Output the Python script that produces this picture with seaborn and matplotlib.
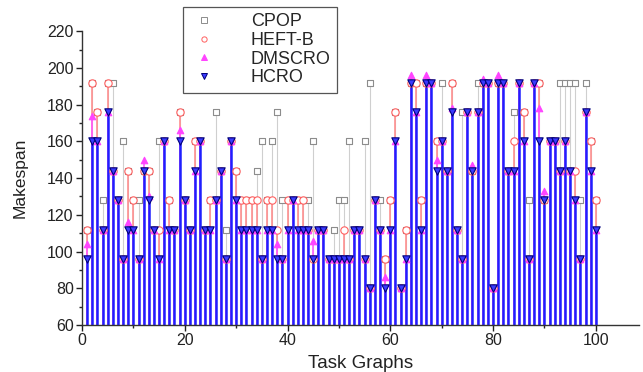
import matplotlib
matplotlib.use("Agg")
import matplotlib.pyplot as plt
from matplotlib.lines import Line2D
from matplotlib.ticker import MultipleLocator
import numpy as np
import pandas as pd
import seaborn as sns

# Makespan of each scheduling algorithm on task graphs 1..100
task_graphs = list(range(1, 101))

cpop = [112, 192, 176, 128, 192, 192, 128, 160, 144, 128,
        128, 144, 144, 112, 160, 160, 128, 112, 176, 128,
        112, 160, 160, 112, 128, 176, 144, 112, 160, 144,
        128, 128, 128, 144, 160, 128, 160, 176, 128, 128,
        128, 128, 128, 128, 160, 112, 112, 96, 112, 128,
        128, 160, 112, 112, 160, 192, 128, 128, 96, 128,
        176, 80, 112, 192, 192, 128, 192, 192, 160, 192,
        144, 192, 112, 176, 176, 144, 192, 192, 192, 80,
        192, 192, 144, 176, 192, 176, 128, 192, 192, 128,
        160, 160, 192, 192, 192, 192, 128, 192, 160, 128]

heft_b = [112, 192, 176, 112, 192, 144, 128, 96, 144, 128,
          96, 144, 144, 112, 112, 160, 128, 112, 176, 128,
          112, 160, 160, 112, 128, 128, 144, 96, 160, 144,
          128, 128, 128, 128, 96, 128, 128, 112, 96, 128,
          128, 128, 128, 112, 96, 112, 112, 96, 96, 96,
          112, 96, 112, 112, 96, 80, 128, 112, 96, 128,
          176, 80, 112, 192, 192, 128, 192, 192, 160, 160,
          144, 192, 112, 96, 176, 144, 176, 192, 192, 80,
          192, 192, 144, 160, 192, 176, 96, 192, 192, 128,
          160, 160, 144, 160, 144, 144, 96, 176, 160, 128]

dmscro = [104, 174, 160, 112, 176, 144, 128, 96, 116, 112,
          96, 150, 130, 112, 96, 160, 112, 112, 166, 128,
          112, 144, 160, 112, 112, 128, 144, 96, 160, 128,
          112, 112, 112, 112, 96, 112, 112, 104, 96, 112,
          128, 112, 112, 112, 106, 112, 112, 96, 96, 96,
          96, 96, 112, 112, 96, 80, 128, 112, 86, 112,
          160, 80, 96, 196, 176, 112, 196, 192, 150, 160,
          144, 178, 112, 96, 176, 147, 176, 194, 192, 80,
          196, 192, 144, 144, 192, 160, 96, 192, 178, 133,
          160, 160, 144, 160, 144, 128, 96, 176, 144, 112]

hcro = [96, 160, 160, 112, 176, 144, 128, 96, 112, 112,
        96, 144, 128, 112, 96, 160, 112, 112, 160, 128,
        112, 144, 160, 112, 112, 128, 144, 96, 160, 128,
        112, 112, 112, 112, 96, 112, 112, 96, 96, 112,
        128, 112, 112, 112, 96, 112, 112, 96, 96, 96,
        96, 96, 112, 112, 96, 80, 128, 112, 80, 112,
        160, 80, 96, 192, 176, 112, 192, 192, 144, 160,
        144, 176, 112, 96, 176, 144, 176, 192, 192, 80,
        192, 192, 144, 144, 192, 160, 96, 192, 160, 128,
        160, 160, 144, 160, 144, 128, 96, 176, 144, 112]

series_names = ["CPOP", "HEFT-B", "DMSCRO", "HCRO"]

df = pd.DataFrame({"task": task_graphs, "CPOP": cpop, "HEFT-B": heft_b,
                   "DMSCRO": dmscro, "HCRO": hcro})

styles = {
    "CPOP":   dict(stem="#cfcfcf", lw=0.8, marker="s", face="white", edge="#8c8c8c", s=22),
    "HEFT-B": dict(stem="#ff8f8f", lw=1.2, marker="o", face="white", edge="#ff6060", s=28),
    "DMSCRO": dict(stem="#ff5cff", lw=1.2, marker="^", face="#ff44ff", edge="#ff44ff", s=22),
    "HCRO":   dict(stem="#1f1fff", lw=1.8, marker="v", face="#3a3aff", edge="#00007a", s=28),
}

sns.set_theme(style="ticks")
plt.rcParams["font.family"] = ["Liberation Sans", "DejaVu Sans"]

fig = plt.figure(figsize=(6.43, 3.72), dpi=100)
ax = fig.add_axes([0.1275, 0.1263, 0.867, 0.790])

base = 60
# drop lines from each value down to the baseline
for name in series_names:
    st = styles[name]
    ax.vlines(df["task"], base, df[name], colors=st["stem"], linewidth=st["lw"], zorder=2)

# markers on top of the stems
for i, name in enumerate(series_names):
    st = styles[name]
    sns.scatterplot(data=df, x="task", y=name, ax=ax, marker=st["marker"],
                    color=st["face"], edgecolor=st["edge"], linewidth=0.8,
                    s=st["s"], zorder=3 + i, legend=False)

ax.set_xlim(0, 108.5)
ax.set_ylim(60, 220)
ax.xaxis.set_major_locator(MultipleLocator(20))
ax.xaxis.set_minor_locator(MultipleLocator(10))
ax.yaxis.set_major_locator(MultipleLocator(20))
ax.yaxis.set_minor_locator(MultipleLocator(10))
ax.set_xticks([0, 20, 40, 60, 80, 100])
ax.tick_params(axis="both", which="major", direction="out", length=4, width=1,
               labelsize=11.5, colors="#222222", pad=2)
ax.tick_params(axis="both", which="minor", direction="out", length=2.5, width=1)
for side in ("top", "right"):
    ax.spines[side].set_visible(False)
for side in ("left", "bottom"):
    ax.spines[side].set_linewidth(1.0)
    ax.spines[side].set_color("#333333")

ax.set_xlabel("Task Graphs", fontsize=13.5, color="#222222", labelpad=5)
ax.set_ylabel("Makespan", fontsize=12.5, color="#222222", labelpad=14)

handles = []
for name in series_names:
    st = styles[name]
    handles.append(Line2D([], [], linestyle="none", marker=st["marker"],
                          markerfacecolor=st["face"], markeredgecolor=st["edge"],
                          markersize=3.8, markeredgewidth=0.7))
leg = fig.legend(handles, series_names, loc="upper left",
                 bbox_to_anchor=(0.285, 0.982), fontsize=13, frameon=True,
                 fancybox=False, framealpha=1, edgecolor="#555555",
                 handlelength=1.6, handletextpad=1.8, labelspacing=0.1,
                 borderpad=0.35, borderaxespad=0)
leg.get_frame().set_linewidth(0.9)
leg.set_zorder(10)

fig.savefig("out.png", dpi=100)
